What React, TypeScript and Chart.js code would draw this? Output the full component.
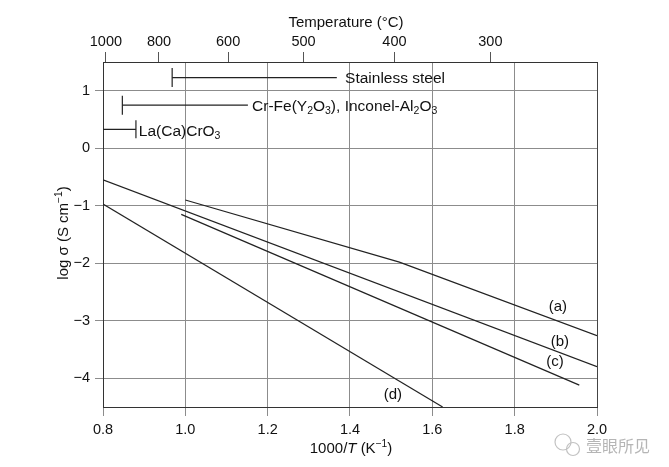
import React, { useEffect, useRef } from "react";
import { Chart, registerables } from "chart.js";

Chart.register(...registerables);

const FAMILY = "'Liberation Sans', Arial, Helvetica, sans-serif";

// Axis ranges and ticks
const xMin = 0.8;
const xMax = 2.0;
const yMin = -4.5;
const yMax = 1.5;
const xTicks = [0.8, 1.0, 1.2, 1.4, 1.6, 1.8, 2.0];
const yTicks = [-4, -3, -2, -1, 0, 1];
const tempLabels = ["1000", "800", "600", "500", "400", "300"];
const tempTickX = [0.807, 0.936, 1.104, 1.287, 1.508, 1.741];

// Conductivity curves (x = 1000/T, y = log sigma)
const curveA = [
  { x: 1.0, y: -0.9 },
  { x: 1.52, y: -1.98 },
  { x: 2.0, y: -3.26 },
];
const curveB = [
  { x: 0.8, y: -0.55 },
  { x: 2.0, y: -3.8 },
];
const curveC = [
  { x: 0.99, y: -1.15 },
  { x: 1.957, y: -4.12 },
];
const curveD = [
  { x: 0.8, y: -0.97 },
  { x: 1.625, y: -4.5 },
];
const curveLabels = ["(a)", "(b)", "(c)", "(d)"];
const curveLabelX = [1.905, 1.91, 1.898, 1.504];
const curveLabelY = [-2.73, -3.34, -3.69, -4.27];

// Operating-range bars
const barStainless = [
  { x: 0.968, y: 1.23 },
  { x: 1.368, y: 1.23 },
];
const barCrFe = [
  { x: 0.847, y: 0.75 },
  { x: 1.152, y: 0.75 },
];
const barLa = [
  { x: 0.8, y: 0.33 },
  { x: 0.88, y: 0.33 },
];
const barTexts = [
  "Stainless steel",
  "Cr-Fe(Y_{2}O_{3}), Inconel-Al_{2}O_{3}",
  "La(Ca)CrO_{3}",
];
const barTextX = [1.388, 1.162, 0.887];
const barTextY = [1.23, 0.75, 0.31];

const xTitle = "1000/*T* (K^{\u22121})";
const yTitle = "log \u03c3 (S cm^{\u22121})";
const topTitle = "Temperature (\u00b0C)";
const watermark = "壹眼所见";

type Seg = { t: string; s?: "sub" | "sup"; i?: boolean };

function parseRich(str: string): Seg[] {
  const segs: Seg[] = [];
  let i = 0;
  let buf = "";
  const flush = () => {
    if (buf) {
      segs.push({ t: buf });
      buf = "";
    }
  };
  while (i < str.length) {
    const c = str[i];
    if ((c === "_" || c === "^") && str[i + 1] === "{") {
      flush();
      const end = str.indexOf("}", i);
      segs.push({ t: str.slice(i + 2, end), s: c === "_" ? "sub" : "sup" });
      i = end + 1;
    } else if (c === "*") {
      flush();
      const end = str.indexOf("*", i + 1);
      segs.push({ t: str.slice(i + 1, end), i: true });
      i = end + 1;
    } else {
      buf += c;
      i++;
    }
  }
  flush();
  return segs;
}

function drawRich(
  ctx: CanvasRenderingContext2D,
  str: string,
  x: number,
  y: number,
  size: number,
  align: "left" | "center",
  color: string
) {
  const segs = parseRich(str);
  const fontFor = (s: Seg) =>
    `${s.i ? "italic " : ""}${s.s ? (size * 0.68).toFixed(1) : size}px ${FAMILY}`;
  let total = 0;
  for (const s of segs) {
    ctx.font = fontFor(s);
    total += ctx.measureText(s.t).width;
  }
  let cx = align === "center" ? x - total / 2 : x;
  ctx.textAlign = "left";
  ctx.textBaseline = "alphabetic";
  ctx.fillStyle = color;
  const base = y + size * 0.358;
  for (const s of segs) {
    ctx.font = fontFor(s);
    const dy = s.s === "sub" ? size * 0.2 : s.s === "sup" ? -size * 0.42 : 0;
    ctx.fillText(s.t, cx, base + dy);
    cx += ctx.measureText(s.t).width;
  }
}

const textPlugin = {
  id: "richTexts",
  afterDraw(chart: any) {
    const ctx: CanvasRenderingContext2D = chart.ctx;
    const xs = chart.scales.x;
    const ys = chart.scales.y;
    const ca = chart.chartArea;
    ctx.save();
    // bar annotations
    barTexts.forEach((t, i) => {
      drawRich(ctx, t, xs.getPixelForValue(barTextX[i]), ys.getPixelForValue(barTextY[i]), 15.5, "left", "#111");
    });
    // curve labels
    curveLabels.forEach((t, i) => {
      drawRich(ctx, t, xs.getPixelForValue(curveLabelX[i]), ys.getPixelForValue(curveLabelY[i]), 15, "center", "#111");
    });
    // axis titles
    drawRich(ctx, xTitle, (ca.left + ca.right) / 2 + 1, 448, 15, "center", "#111");
    drawRich(ctx, topTitle, 346, 22, 15, "center", "#111");
    ctx.save();
    ctx.translate(63, 233);
    ctx.rotate(-Math.PI / 2);
    drawRich(ctx, yTitle, 0, 0, 15, "center", "#111");
    ctx.restore();
    // watermark (icon + text)
    ctx.strokeStyle = "#c2c2c2";
    ctx.lineWidth = 1.2;
    ctx.beginPath();
    ctx.arc(563, 442, 8, 0, Math.PI * 2);
    ctx.stroke();
    ctx.beginPath();
    ctx.arc(573, 449, 6.5, 0, Math.PI * 2);
    ctx.stroke();
    ctx.font = `16px 'Noto Sans CJK SC', sans-serif`;
    ctx.fillStyle = "#b5b5b5";
    ctx.textAlign = "left";
    ctx.textBaseline = "middle";
    ctx.fillText(watermark, 586, 446);
    ctx.restore();
  },
};

const lineDs = (data: any[]) => ({
  data,
  borderColor: "#222",
  borderWidth: 1.2,
  pointRadius: 0,
  fill: false,
  tension: 0,
});

const barDs = (data: any[], radii: number[]) => ({
  data,
  borderColor: "#222",
  borderWidth: 1.2,
  pointRadius: radii,
  pointStyle: "line",
  pointRotation: 90,
  pointBorderColor: "#222",
  pointBorderWidth: 1.2,
  fill: false,
  tension: 0,
});

export default function App() {
  const ref = useRef<HTMLCanvasElement | null>(null);
  useEffect(() => {
    if (!ref.current) return;
    Chart.defaults.font.family = FAMILY;
    Chart.defaults.color = "#111";
    const gridColor = "#8c8c8c";
    const chart = new Chart(ref.current, {
      type: "line",
      data: {
        datasets: [
          lineDs(curveA),
          lineDs(curveB),
          lineDs(curveC),
          lineDs(curveD),
          barDs(barStainless, [9.5, 0]),
          barDs(barCrFe, [9.5, 0]),
          barDs(barLa, [0, 9]),
        ] as any,
      },
      options: {
        responsive: false,
        animation: false,
        events: [],
        layout: { padding: { left: 0, right: 72, top: 0, bottom: 0 } },
        plugins: { legend: { display: false }, tooltip: { enabled: false } },
        scales: {
          x: {
            type: "linear",
            position: "bottom",
            min: xMin,
            max: xMax,
            afterBuildTicks: (s: any) => {
              s.ticks = xTicks.map((v) => ({ value: v }));
            },
            afterFit: (s: any) => {
              s.height = 60;
            },
            ticks: {
              autoSkip: false,
              maxRotation: 0,
              padding: 5,
              font: { size: 14.5 },
              color: "#111",
              callback: (v: any) => Number(v).toFixed(1),
            },
            grid: {
              color: (c: any) => (c.tick && Math.abs(c.tick.value - xMax) < 1e-6 ? "#444" : gridColor),
              tickColor: gridColor,
              tickLength: 9,
              lineWidth: 1,
            },
            border: { color: "#333", width: 1 },
          },
          xTop: {
            type: "linear",
            position: "top",
            min: xMin,
            max: xMax,
            afterBuildTicks: (s: any) => {
              s.ticks = tempTickX.map((v) => ({ value: v }));
            },
            afterFit: (s: any) => {
              s.height = 62;
            },
            ticks: {
              autoSkip: false,
              maxRotation: 0,
              padding: 1,
              font: { size: 14.5 },
              color: "#111",
              callback: (_v: any, i: number) => tempLabels[i],
            },
            grid: {
              drawOnChartArea: false,
              color: "#555",
              tickLength: 10,
              lineWidth: 1,
            },
            border: { color: "#333", width: 1 },
          },
          y: {
            type: "linear",
            position: "left",
            min: yMin,
            max: yMax,
            afterBuildTicks: (s: any) => {
              s.ticks = yTicks.map((v) => ({ value: v }));
            },
            afterFit: (s: any) => {
              s.width = 103;
            },
            ticks: {
              padding: 5,
              font: { size: 14.5 },
              color: "#111",
              callback: (v: any) => (Number(v) < 0 ? "\u2212" + Math.abs(Number(v)) : String(v)),
            },
            grid: {
              color: gridColor,
              tickLength: 8,
              lineWidth: 1,
            },
            border: { color: "#333", width: 1 },
          },
        },
      } as any,
      plugins: [textPlugin],
    });
    return () => chart.destroy();
  }, []);
  return (
    <div style={{ position: "absolute", left: 0, top: 0, width: 669, height: 467, background: "#fff" }}>
      <canvas ref={ref} width={669} height={467} style={{ display: "block" }} />
    </div>
  );
}
